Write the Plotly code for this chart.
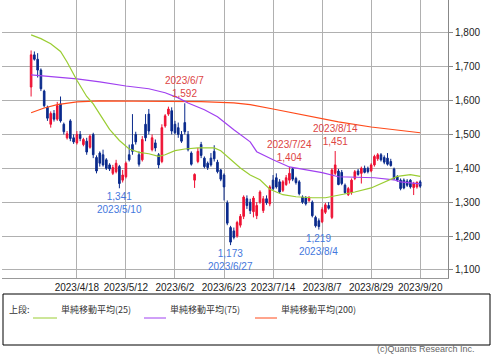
import pandas as pd
import plotly.graph_objects as go

# ---- trading days (Tokyo market) ----
holidays = ["2023-05-03", "2023-05-04", "2023-05-05", "2023-07-17", "2023-08-11", "2023-09-18"]
days = [d for d in pd.bdate_range("2023-03-29", "2023-09-20") if d.strftime("%Y-%m-%d") not in holidays]
dates = [f"{d.year}/{d.month}/{d.day}" for d in days]

opens = [1640, 1735, 1722, 1690, 1628, 1580, 1530, 1562, 1545, 1590,
         1530, 1490, 1540, 1490, 1475, 1500, 1470, 1480, 1462, 1500,
         1432, 1445, 1440, 1425, 1410, 1385, 1390, 1405, 1365, 1375,
         1440, 1470, 1500, 1440, 1425, 1530, 1560, 1455, 1475, 1440,
         1420, 1525, 1560, 1570, 1530, 1520, 1500, 1535, 1500, 1445,
         1365, 1420, 1470, 1430, 1415, 1430, 1450, 1418, 1395, 1380,
         1298, 1225, 1215, 1200, 1232, 1258, 1310, 1300, 1272, 1260,
         1300, 1275, 1310, 1295, 1365, 1372, 1360, 1335, 1352, 1365,
         1398, 1370, 1360, 1315, 1312, 1305, 1300, 1255, 1245, 1242,
         1270, 1290, 1255, 1385, 1392, 1388, 1350, 1322, 1328, 1370,
         1392, 1385, 1400, 1400, 1392, 1410, 1428, 1440, 1432, 1430,
         1420, 1398, 1375, 1365, 1365, 1362, 1365, 1343, 1345, 1360]
highs = [1748, 1745, 1740, 1695, 1632, 1585, 1568, 1572, 1596, 1612,
         1535, 1510, 1545, 1500, 1510, 1510, 1490, 1490, 1500, 1505,
         1438, 1450, 1455, 1430, 1415, 1410, 1425, 1410, 1395, 1420,
         1470, 1560, 1508, 1450, 1495, 1560, 1575, 1500, 1485, 1445,
         1530, 1560, 1582, 1580, 1540, 1535, 1510, 1592, 1510, 1450,
         1385, 1460, 1478, 1435, 1420, 1445, 1468, 1425, 1398, 1385,
         1305, 1230, 1225, 1245, 1265, 1320, 1320, 1310, 1318, 1300,
         1335, 1318, 1320, 1350, 1380, 1385, 1368, 1365, 1380, 1404,
         1402, 1375, 1365, 1320, 1318, 1318, 1305, 1260, 1252, 1285,
         1298, 1300, 1400, 1451, 1398, 1395, 1355, 1345, 1370, 1395,
         1398, 1405, 1408, 1405, 1415, 1440, 1445, 1445, 1438, 1445,
         1428, 1402, 1380, 1370, 1370, 1368, 1368, 1360, 1362, 1365]
lows = [1612, 1718, 1668, 1628, 1580, 1540, 1520, 1538, 1540, 1535,
        1500, 1485, 1480, 1472, 1470, 1480, 1465, 1440, 1458, 1430,
        1385, 1405, 1405, 1395, 1392, 1380, 1385, 1341, 1358, 1370,
        1420, 1440, 1470, 1405, 1420, 1480, 1500, 1450, 1450, 1400,
        1415, 1520, 1555, 1500, 1500, 1490, 1475, 1500, 1450, 1408,
        1342, 1415, 1430, 1400, 1395, 1405, 1420, 1385, 1362, 1305,
        1232, 1173, 1190, 1195, 1225, 1250, 1280, 1265, 1255, 1250,
        1295, 1268, 1292, 1288, 1335, 1340, 1325, 1330, 1348, 1355,
        1362, 1352, 1320, 1295, 1290, 1300, 1255, 1225, 1219, 1238,
        1265, 1278, 1250, 1380, 1350, 1350, 1325, 1318, 1322, 1365,
        1378, 1355, 1385, 1385, 1388, 1405, 1422, 1420, 1412, 1408,
        1405, 1365, 1360, 1335, 1338, 1345, 1340, 1321, 1340, 1342]
closes = [1735, 1722, 1690, 1635, 1585, 1548, 1562, 1545, 1585, 1540,
          1508, 1502, 1488, 1478, 1500, 1488, 1485, 1448, 1495, 1440,
          1392, 1415, 1410, 1400, 1398, 1402, 1415, 1355, 1380, 1415,
          1425, 1450, 1478, 1412, 1485, 1490, 1510, 1490, 1460, 1410,
          1520, 1555, 1575, 1510, 1505, 1500, 1480, 1508, 1455, 1412,
          1382, 1450, 1438, 1405, 1402, 1410, 1428, 1390, 1368, 1345,
          1238, 1182, 1196, 1240, 1258, 1315, 1290, 1275, 1312, 1290,
          1330, 1310, 1298, 1345, 1340, 1345, 1330, 1360, 1372, 1385,
          1368, 1358, 1325, 1300, 1295, 1312, 1260, 1230, 1228, 1278,
          1292, 1282, 1395, 1410, 1352, 1355, 1328, 1340, 1365, 1390,
          1382, 1400, 1388, 1390, 1410, 1435, 1440, 1425, 1418, 1412,
          1408, 1370, 1365, 1340, 1342, 1350, 1345, 1355, 1358, 1347]

# moving averages, read at selected trading-day indices
ma25_idx = [0, 3, 6, 9, 11, 14, 17, 19, 21, 24, 27, 30, 33, 36, 39, 41, 44, 47, 51, 56,
            58, 61, 64, 67, 70, 73, 77, 81, 86, 90, 94, 99, 104, 109, 112, 116, 119]
ma25_val = [1794, 1783, 1768, 1745, 1714, 1660, 1612, 1590, 1560, 1515, 1482, 1457, 1447, 1443,
            1435, 1440, 1452, 1457, 1460, 1460, 1452, 1427, 1401, 1380, 1366, 1338, 1322, 1316,
            1313, 1313, 1320, 1330, 1342, 1363, 1376, 1381, 1376]
ma75_idx = [0, 14, 21, 29, 36, 41, 45, 48, 53, 57, 62, 67, 69, 74, 79, 84, 89, 94, 105, 111, 113, 119]
ma75_val = [1676, 1664, 1655, 1643, 1635, 1623, 1608, 1593, 1573, 1552, 1514, 1478, 1449, 1425,
            1404, 1395, 1387, 1375, 1372, 1366, 1360, 1354]
ma200_idx = [0, 4, 8, 14, 21, 42, 52, 62, 67, 74, 84, 94, 104, 119]
ma200_val = [1564, 1578, 1588, 1596, 1599, 1599, 1597, 1593, 1588, 1575, 1555, 1537, 1522, 1505]

tick_idx = [14, 29, 44, 59, 74, 89, 104, 119]
y_ticks = [1100, 1200, 1300, 1400, 1500, 1600, 1700, 1800]

highs_marked = [("2023/6/7", 1592), ("2023/7/24", 1404), ("2023/8/14", 1451)]
lows_marked = [("2023/5/10", 1341), ("2023/6/27", 1173), ("2023/8/4", 1219)]

UP, DOWN = "#ee1133", "#0a2a8c"
C25, C75, C200 = "#9acd32", "#a040f0", "#ff4a1a"
HI_TXT, LO_TXT = "#dd4444", "#4477dd"
FONT = "Liberation Sans, Arial, sans-serif"
JFONT = "Noto Sans CJK JP, sans-serif"

fig = go.Figure()
fig.add_trace(go.Candlestick(
    x=dates, open=opens, high=highs, low=lows, close=closes,
    increasing=dict(line=dict(color=UP, width=1), fillcolor=UP),
    decreasing=dict(line=dict(color=DOWN, width=1), fillcolor=DOWN),
    whiskerwidth=0, showlegend=False, hoverinfo="skip"))
for idx, vals, col in [(ma200_idx, ma200_val, C200), (ma75_idx, ma75_val, C75), (ma25_idx, ma25_val, C25)]:
    fig.add_trace(go.Scatter(x=[dates[i] for i in idx], y=vals, mode="lines",
                             line=dict(color=col, width=1.2), showlegend=False, hoverinfo="skip"))

for d, v in highs_marked:
    fig.add_annotation(x=d, y=v, text=f"{d}<br>{v:,}", showarrow=False, yanchor="bottom",
                       yshift=2, font=dict(family=FONT, size=10, color=HI_TXT))
for d, v in lows_marked:
    fig.add_annotation(x=d, y=v, text=f"{v:,}<br>{d}", showarrow=False, yanchor="top",
                       yshift=-1, font=dict(family=FONT, size=10, color=LO_TXT))

# legend box below the chart
def py(ypx):
    return (278 - ypx) / 278

def px(xpx):
    return (xpx - 2) / 446

fig.add_shape(type="rect", xref="paper", yref="paper", x0=px(3), x1=px(490), y0=py(345), y1=py(294),
              line=dict(color="#000000", width=1), fillcolor="white")
fig.add_annotation(xref="paper", yref="paper", x=px(7), y=py(318), text="上段:", showarrow=False,
                   xanchor="left", font=dict(family=JFONT, size=9, color="#333"))
legend_items = [("単純移動平均(25)", C25, 33, 57), ("単純移動平均(75)", C75, 144, 166),
                ("単純移動平均(200)", C200, 255, 277)]
for name, col, x0, x1 in legend_items:
    fig.add_shape(type="line", xref="paper", yref="paper", x0=px(x0), x1=px(x1), y0=py(318), y1=py(318),
                  line=dict(color=col, width=1))
    fig.add_annotation(xref="paper", yref="paper", x=px(x1 + 2), y=py(318), text=name, showarrow=False,
                       xanchor="left", font=dict(family=JFONT, size=9, color="#333"))
fig.add_annotation(xref="paper", yref="paper", x=px(477), y=py(356), text="(c)Quants Research Inc.",
                   showarrow=False, xanchor="right", font=dict(family=FONT, size=9, color="#666"))

fig.update_layout(
    width=491, height=361, margin=dict(l=2, r=43, t=0, b=83),
    plot_bgcolor="white", paper_bgcolor="white",
    xaxis=dict(type="category", range=[-8.9, 127.5], tickvals=[dates[i] for i in tick_idx],
               ticktext=[dates[i] for i in tick_idx], showgrid=True, gridcolor="#b0b0b0", gridwidth=1,
               showline=True, linecolor="#999", mirror=True, ticks="", rangeslider=dict(visible=False),
               tickfont=dict(family=FONT, size=10, color="#222"), tickangle=0),
    yaxis=dict(side="right", range=[1076, 1897], tickvals=y_ticks, tickformat=",",
               showgrid=True, gridcolor="#b0b0b0", gridwidth=1, showline=True, linecolor="#888",
               ticks="outside", ticklen=4, tickcolor="#888", zeroline=False,
               tickfont=dict(family=FONT, size=10, color="#222")),
)
fig.write_html("out.html", config={"displayModeBar": False},
               post_script="document.body.style.margin='0';document.body.style.padding='0';")
